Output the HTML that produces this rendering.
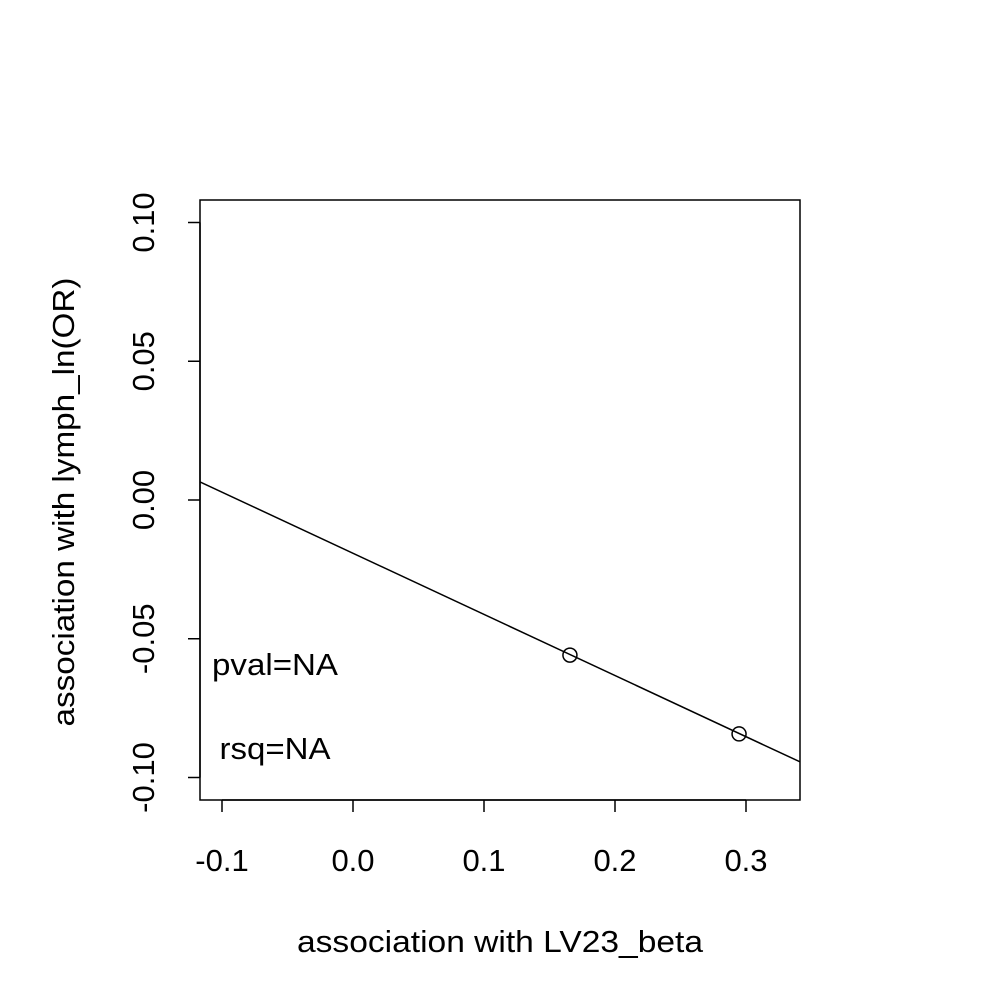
<!DOCTYPE html>
<html><head><meta charset="utf-8"><style>
html,body{margin:0;padding:0;background:#fff;}
svg text{font-family:"Liberation Sans",Arial,sans-serif;font-size:31px;fill:#000;}
</style></head><body>
<svg id="chart" width="1000" height="1000" viewBox="0 0 1000 1000">
<rect x="0" y="0" width="1000" height="1000" fill="#fff"/>
<g id="marks"></g>
</svg>
<script>
const xTicks=[-0.1,0.0,0.1,0.2,0.3];
const xTickLabels=["-0.1","0.0","0.1","0.2","0.3"];
const yTicks=[0.10,0.05,0.00,-0.05,-0.10];
const yTickLabels=["0.10","0.05","0.00","-0.05","-0.10"];
const pointX=[0.1656,0.2947];
const pointY=[-0.0559,-0.0843];
const lineIntercept=[-0.0192];
const lineSlope=[-0.2203];
const xLabel="association with LV23_beta";
const yLabel="association with lymph_ln(OR)";

const NS="http://www.w3.org/2000/svg";
const g=document.getElementById('marks');
const L=200,R=800,T=200,B=800;
function sx(v){return 353+v*1310;}
function sy(v){return 500-v*2775;}
const xMin=(L-353)/1310, xMax=(R-353)/1310;
function mk(tag,attrs,parent){const e=document.createElementNS(NS,tag);for(const k in attrs)e.setAttribute(k,attrs[k]);(parent||g).appendChild(e);return e;}

const clip=mk('clipPath',{id:'pc'});
mk('rect',{x:L,y:T,width:R-L,height:B-T},clip);

const box=mk('rect',{x:L,y:T,width:R-L,height:B-T,fill:'none',stroke:'#000','stroke-width':1.5});



const xa=mk('line',{x1:sx(xTicks[0]),x2:sx(xTicks[xTicks.length-1]),y1:B,y2:B,stroke:'#000','stroke-width':1.5});


xTicks.forEach((v,i)=>{
 const t=mk('line',{x1:sx(v),x2:sx(v),y1:B,y2:B+12,stroke:'#000','stroke-width':1.5});
 
 
 const tx=mk('text',{x:sx(v),y:871,'text-anchor':'middle'});
 tx.textContent=xTickLabels[i];
 
 
});
const ya=mk('line',{x1:L,x2:L,y1:sy(yTicks[0]),y2:sy(yTicks[yTicks.length-1]),stroke:'#000','stroke-width':1.5});


yTicks.forEach((v,i)=>{
 const t=mk('line',{x1:L-12,x2:L,y1:sy(v),y2:sy(v),stroke:'#000','stroke-width':1.5});
 
 
 const tx=mk('text',{x:0,y:0,'text-anchor':'middle',transform:`translate(154,${sy(v)}) rotate(-90)`});
 tx.textContent=yTickLabels[i];
 
 
});
const xt=mk('text',{x:500,y:952,'text-anchor':'middle',textLength:406,lengthAdjust:'spacingAndGlyphs'});
xt.textContent=xLabel;


const yt=mk('text',{x:0,y:0,'text-anchor':'middle',transform:'translate(74,502) rotate(-90)',textLength:449,lengthAdjust:'spacingAndGlyphs'});
yt.textContent=yLabel;



const rl=mk('line',{x1:sx(xMin),y1:sy(lineIntercept[0]+lineSlope[0]*xMin),x2:sx(xMax),y2:sy(lineIntercept[0]+lineSlope[0]*xMax),stroke:'#000','stroke-width':1.5,'clip-path':'url(#pc)'});



pointX.forEach((v,i)=>{
 const c=mk('circle',{cx:sx(v),cy:sy(pointY[i]),r:7,fill:'none',stroke:'#000','stroke-width':1.5});
 
 
});

const p=mk('text',{x:275,y:675,'text-anchor':'middle',textLength:126,lengthAdjust:'spacingAndGlyphs'});
p.textContent='pval=NA';


const r=mk('text',{x:275,y:759,'text-anchor':'middle',textLength:111,lengthAdjust:'spacingAndGlyphs'});
r.textContent='rsq=NA';


</script>
</body></html>
